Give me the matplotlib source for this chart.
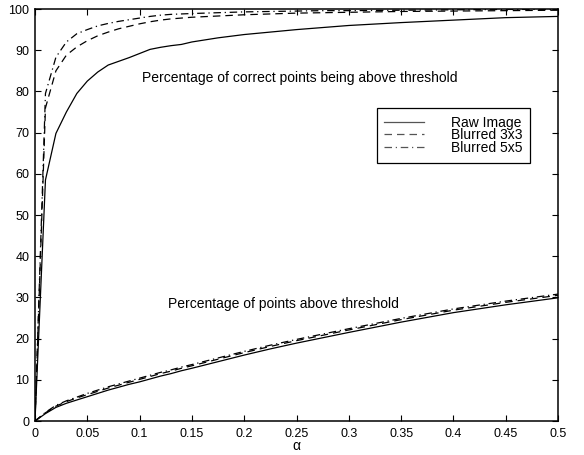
import matplotlib
matplotlib.use("Agg")
import matplotlib.pyplot as plt

plt.rcParams['font.family'] = ['Liberation Sans', 'DejaVu Sans']

alpha = [0, 0.01, 0.02, 0.03, 0.04, 0.05, 0.06, 0.07, 0.08, 0.09, 0.10, 0.11, 0.12,
         0.13, 0.14, 0.15, 0.175, 0.20, 0.225, 0.25, 0.275, 0.30, 0.35, 0.40, 0.45, 0.50]

correct_raw = [0, 58.5, 69.8, 75.0, 79.5, 82.5, 84.7, 86.4, 87.3, 88.2, 89.2, 90.2, 90.7,
               91.1, 91.4, 92.0, 93.0, 93.8, 94.4, 95.0, 95.5, 96.0, 96.7, 97.3, 97.9, 98.2]
correct_b3 = [0, 76.0, 85.0, 88.8, 90.8, 92.3, 93.5, 94.4, 95.2, 95.8, 96.4, 96.9, 97.3,
              97.6, 97.8, 98.0, 98.3, 98.6, 98.8, 99.0, 99.1, 99.2, 99.4, 99.5, 99.6, 99.7]
correct_b5 = [0, 79.5, 88.3, 92.0, 94.0, 95.0, 95.9, 96.5, 97.0, 97.4, 97.8, 98.2, 98.5,
              98.7, 98.8, 98.9, 99.1, 99.3, 99.4, 99.5, 99.6, 99.6, 99.7, 99.8, 99.9, 99.9]

above_raw = [0, 1.8, 3.3, 4.3, 5.1, 5.9, 6.7, 7.5, 8.2, 8.9, 9.5, 10.2, 10.9,
             11.5, 12.2, 12.8, 14.4, 16.0, 17.5, 18.9, 20.2, 21.5, 24.0, 26.3, 28.2, 29.9]
above_b3 = [0, 2.0, 3.6, 4.7, 5.6, 6.4, 7.2, 8.0, 8.7, 9.4, 10.1, 10.8, 11.5,
            12.1, 12.8, 13.4, 15.0, 16.6, 18.1, 19.5, 20.8, 22.1, 24.6, 26.9, 28.8, 30.5]
above_b5 = [0, 2.1, 3.8, 4.9, 5.8, 6.7, 7.5, 8.3, 9.0, 9.7, 10.4, 11.1, 11.8,
            12.4, 13.1, 13.7, 15.3, 16.9, 18.4, 19.8, 21.1, 22.4, 24.9, 27.2, 29.1, 30.8]

series_labels = ['Raw Image', 'Blurred 3x3', 'Blurred 5x5']
xticks = [0, 0.05, 0.1, 0.15, 0.2, 0.25, 0.3, 0.35, 0.4, 0.45, 0.5]
xticklabels = ['0', '0.05', '0.1', '0.15', '0.2', '0.25', '0.3', '0.35', '0.4', '0.45', '0.5']
yticks = list(range(0, 101, 10))

fig = plt.figure(figsize=(5.84, 4.55), dpi=100)
ax = fig.add_axes([35/584, 1 - 421/455, 523/584, 412/455])

lw = 0.9
l1, = ax.plot(alpha, correct_raw, color='black', lw=lw, ls='-')
l2, = ax.plot(alpha, correct_b3, color='black', lw=lw, ls=(0, (6, 4)))
l3, = ax.plot(alpha, correct_b5, color='black', lw=lw, ls=(0, (6, 3, 1, 3)))
ax.plot(alpha, above_raw, color='black', lw=lw, ls='-')
ax.plot(alpha, above_b3, color='black', lw=lw, ls=(0, (6, 4)))
ax.plot(alpha, above_b5, color='black', lw=lw, ls=(0, (6, 3, 1, 3)))

ax.set_xlim(0, 0.5)
ax.set_ylim(0, 100)
ax.set_xticks(xticks)
ax.set_xticklabels(xticklabels)
ax.set_yticks(yticks)
ax.tick_params(direction='in', top=True, right=True, length=4, width=0.8,
               labelsize=9)
ax.tick_params(axis='x', pad=5)
ax.tick_params(axis='y', pad=4)
for s in ax.spines.values():
    s.set_linewidth(1.1)

ax.set_xlabel('α', fontsize=10, labelpad=-1)

ax.text(0.102, 83.3, 'Percentage of correct points being above threshold',
        fontsize=10, va='center', ha='left')
ax.text(0.127, 28.5, 'Percentage of points above threshold',
        fontsize=10, va='center', ha='left')

leg = ax.legend([l1, l2, l3], series_labels, loc='upper right',
                bbox_to_anchor=(0.9465, 0.7597), fontsize=10, frameon=True,
                fancybox=False, edgecolor='black', framealpha=1,
                handlelength=2.9, handletextpad=1.9, borderpad=0.55,
                labelspacing=-0.1, borderaxespad=0)
leg.get_frame().set_linewidth(0.9)
for h in leg.get_lines():
    h.set_color('#555555')

fig.savefig('out.png', dpi=100)
